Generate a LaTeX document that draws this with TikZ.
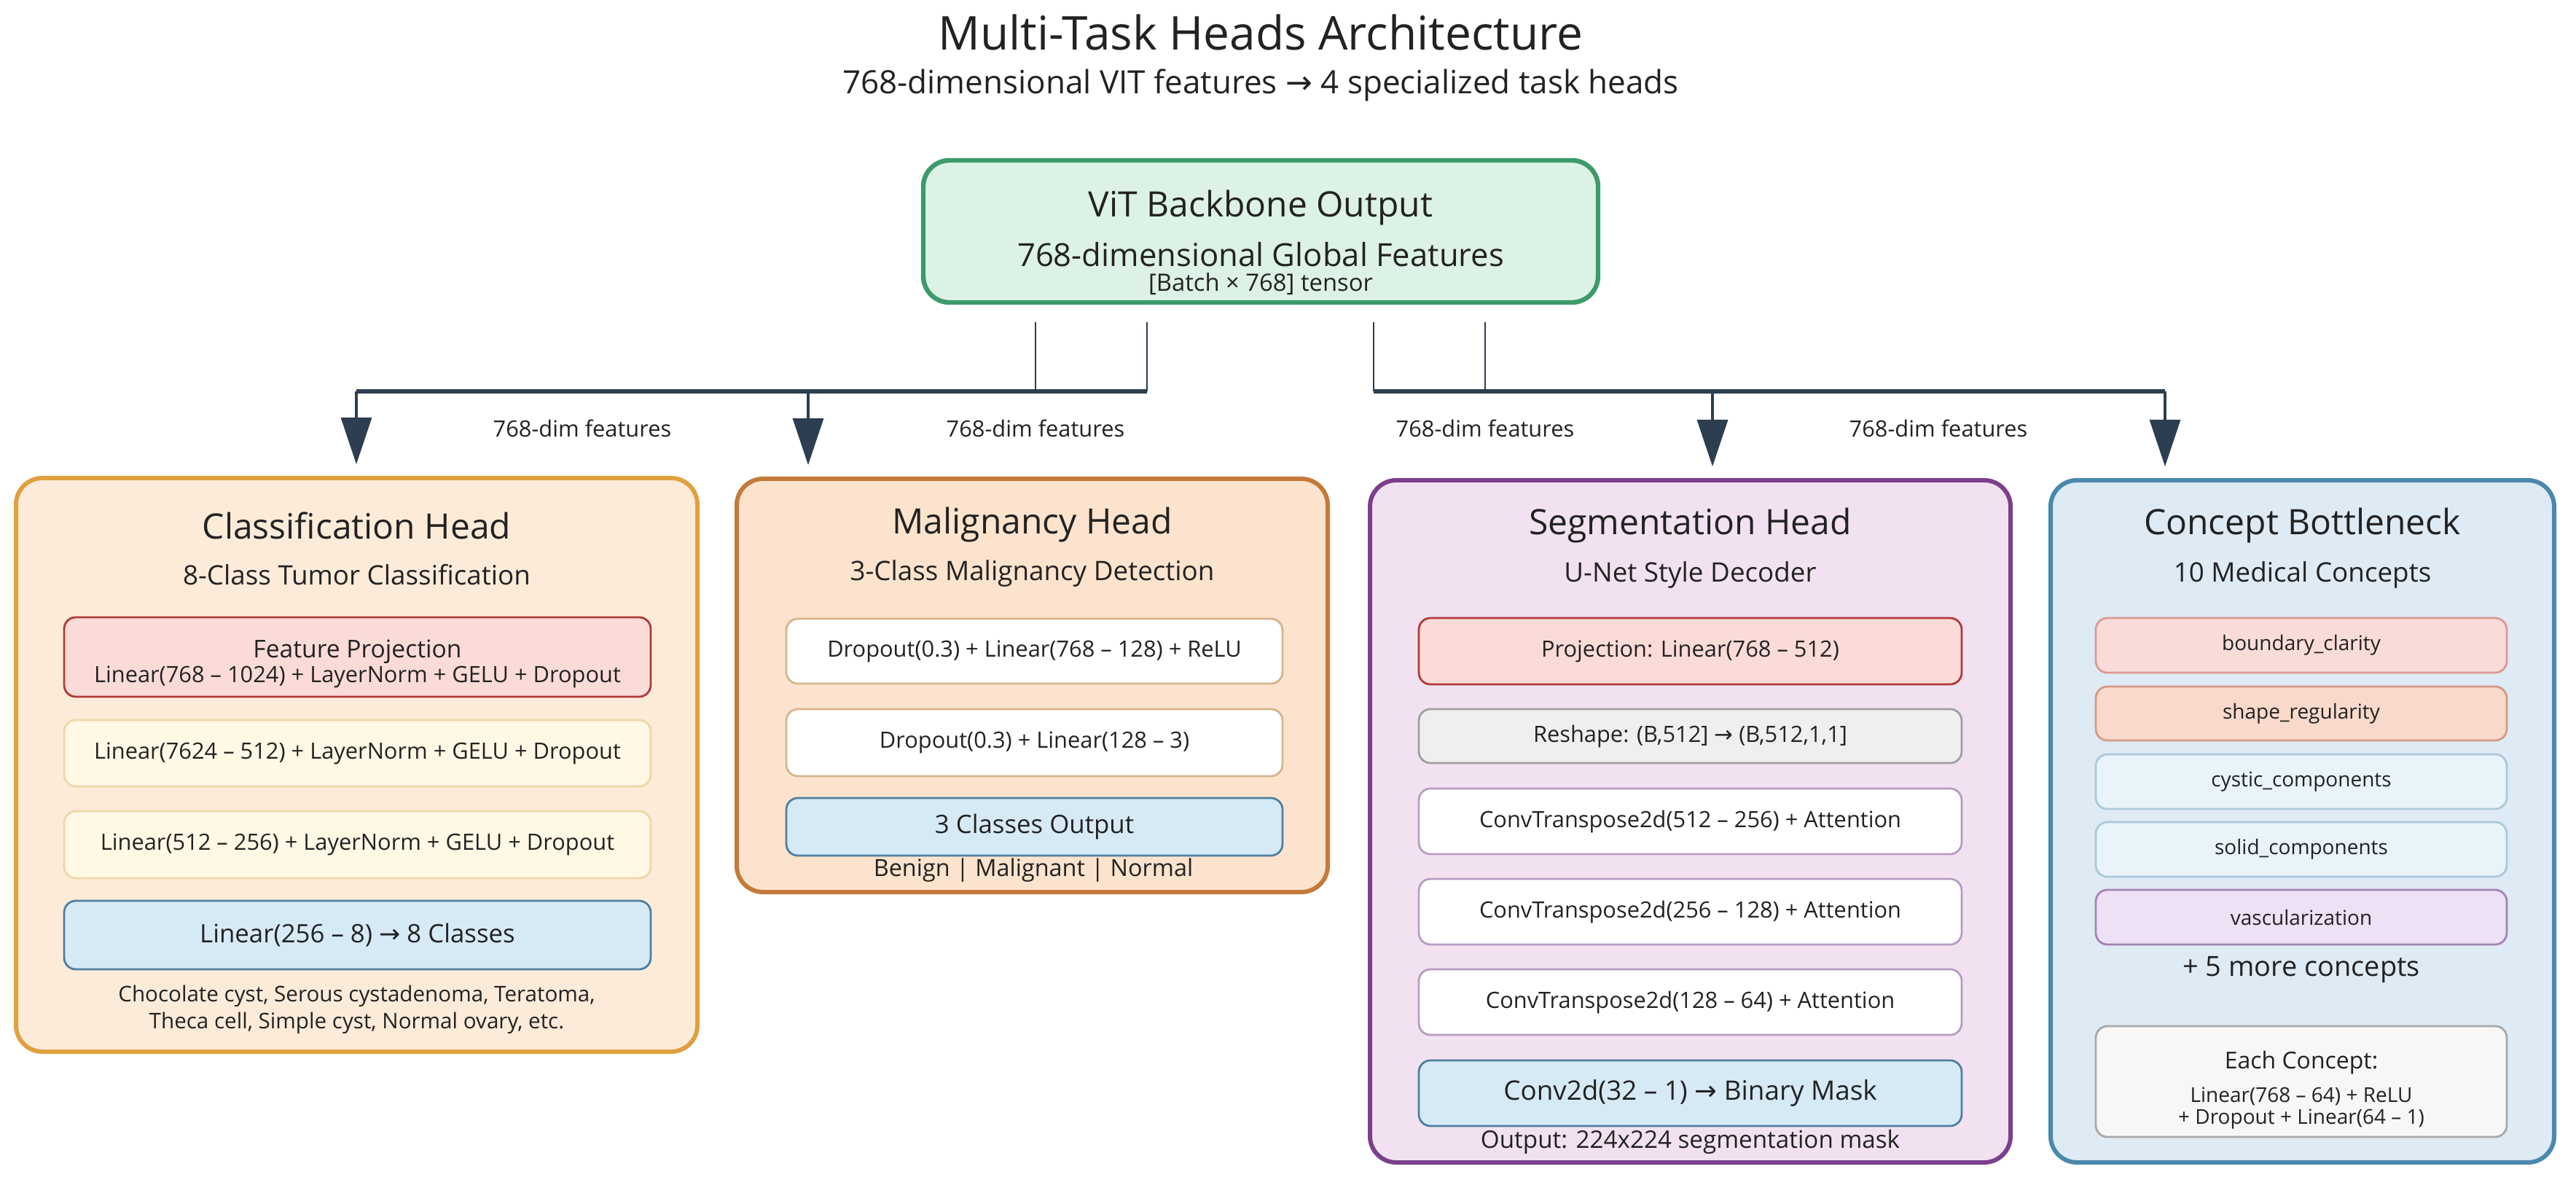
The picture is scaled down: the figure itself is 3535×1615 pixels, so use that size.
\documentclass[tikz,border=0pt]{standalone}
\usepackage{fontspec}
\setmainfont{Open Sans}
\newfontfamily\dvsans{DejaVu Sans}
\usetikzlibrary{arrows.meta}
\newcommand{\myarr}{{\dvsans →}}
\newcommand{\fs}[1]{\fontsize{#1}{#1}\selectfont}
\definecolor{ink}{HTML}{222222}
\definecolor{arrowc}{HTML}{2C3E50}
\definecolor{vitb}{HTML}{3D9A6B}\definecolor{vitf}{HTML}{DDF2E6}
\definecolor{clsb}{HTML}{E0A040}\definecolor{clsf}{HTML}{FDEBD9}
\definecolor{malb}{HTML}{C47A3A}\definecolor{malf}{HTML}{FBE3CD}
\definecolor{segb}{HTML}{7B3F8C}\definecolor{segf}{HTML}{F2E2F1}
\definecolor{conb}{HTML}{4A88AE}\definecolor{conf}{HTML}{DEEAF4}
\definecolor{redb}{HTML}{B03A3A}\definecolor{redf}{HTML}{FADBD8}
\definecolor{yelb}{HTML}{EED6A6}\definecolor{yelf}{HTML}{FEF8E4}
\definecolor{blub}{HTML}{4E7FA0}\definecolor{bluf}{HTML}{D6EAF6}
\definecolor{tanb}{HTML}{D6B48C}
\definecolor{gryb}{HTML}{A0A0A0}\definecolor{gryf}{HTML}{EFEFEF}
\definecolor{purb}{HTML}{B79CC2}
\definecolor{pinkb}{HTML}{D89A94}\definecolor{pinkf}{HTML}{F9DCD8}
\definecolor{peachb}{HTML}{D49A84}\definecolor{peachf}{HTML}{F9D9CB}
\definecolor{skyb}{HTML}{A9C9DA}\definecolor{skyf}{HTML}{E9F4FA}
\definecolor{lavb}{HTML}{A483B4}\definecolor{lavf}{HTML}{EEE0F5}
\definecolor{ltgb}{HTML}{A8A8A8}\definecolor{ltgf}{HTML}{F7F7F7}
\begin{document}
\begin{tikzpicture}[x=0.25pt,y=-0.25pt,
  wh/.style 2 args={minimum width=#1*0.25pt, minimum height=#2*0.25pt},
  outer/.style={draw, rounded corners=9pt, line width=1.5pt, inner sep=0pt},
  ibox/.style={draw, rounded corners=4pt, line width=0.7pt, inner sep=0pt, align=center, text=ink, font=\fs{7.7pt}},
  txt/.style={inner sep=0pt, text=ink, align=center},
  headt/.style={txt, font=\fs{12pt}},
  heads/.style={txt, font=\fs{9.2pt}},
  lbl/.style={txt, font=\fs{7.7pt}},
  thinl/.style={draw=arrowc, line width=0.55pt},
  bar/.style={draw=arrowc, line width=1.3pt},
  arr/.style={draw=arrowc, line width=0.8pt, -{Triangle[width=10.5pt,length=16pt]}, shorten >=4pt}
]
\useasboundingbox[fill=white] (0,0) rectangle (3535,1615);

% titles
\node[txt, font=\fs{16pt}] (title) at (1730,45) {Multi-Task Heads Architecture};
\node[txt, font=\fs{11pt}] (subtitle) at (1730,117) {768-dimensional VIT features \myarr\ 4 specialized task heads};

% backbone
\node[outer, draw=vitb, fill=vitf, line width=1.6pt, wh={926}{195}] (vit) at (1730,317.5) {};
\node[txt, font=\fs{12pt}] (vit1) at (1730,285) {ViT Backbone Output};
\node[txt, font=\fs{10.9pt}] (vit2) at (1730,349) {768-dimensional Global Features};
\node[txt, font=\fs{8.2pt}] (vit3) at (1730,390) {[Batch × 768] tensor};

% head boxes
\node[outer, draw=clsb, fill=clsf, wh={935}{787}] (cls) at (489.5,1049.5) {};
\node[outer, draw=malb, fill=malf, wh={811}{567}] (mal) at (1416.5,940.5) {};
\node[outer, draw=segb, fill=segf, wh={879}{936}] (seg) at (2319.5,1127) {};
\node[outer, draw=conb, fill=conf, wh={691}{936}] (con) at (3159.5,1127) {};

% connectors
\coordinate (tl1) at (1421,442);
\coordinate (tl2) at (1574,442);
\coordinate (tr1) at (1885,442);
\coordinate (tr2) at (2038,442);
\coordinate (jl0) at (489,537);
\coordinate (jl1) at (1109,537);
\coordinate (jl2) at (1421,537);
\coordinate (jl3) at (1574,537);
\coordinate (jr0) at (1885,537);
\coordinate (jr1) at (2038,537);
\coordinate (jr2) at (2350,537);
\coordinate (jr3) at (2971,537);
\draw[thinl] (tl1) -- (jl2);
\draw[thinl] (tl2) -- (jl3);
\draw[thinl] (tr1) -- (jr0);
\draw[thinl] (tr2) -- (jr1);
\draw[bar] (jl0) -- (jl3);
\draw[bar] (jr0) -- (jr3);
\draw[arr] (jl0) -- (cls.north -| jl0);
\draw[arr] (jl1) -- (mal.north -| jl1);
\draw[arr] (jr2) -- (seg.north -| jr2);
\draw[arr] (jr3) -- (con.north -| jr3);
\node[lbl] (f1) at (799,588) {768-dim features};
\node[lbl] (f2) at (1421,588) {768-dim features};
\node[lbl] (f3) at (2038,588) {768-dim features};
\node[lbl] (f4) at (2660,588) {768-dim features};

% classification head
\node[headt] (clst) at (489.5,721) {Classification Head};
\node[heads] (clss) at (489.5,789) {8-Class Tumor Classification};
\node[ibox, draw=redb, fill=redf, wh={805}{109}] (c1) at (490.5,901.5) {};
\node[txt, font=\fs{8.4pt}] (c1a) at (490.5,894) {Feature Projection};
\node[txt, font=\fs{7.7pt}] (c1b) at (490.5,929) {Linear(768 – 1024) + LayerNorm + GELU + Dropout};
\node[ibox, draw=yelb, fill=yelf, wh={805}{91}] (c2) at (490.5,1033.5) {Linear(7624 – 512) + LayerNorm + GELU + Dropout};
\node[ibox, draw=yelb, fill=yelf, wh={805}{92}] (c3) at (490.5,1159) {Linear(512 – 256) + LayerNorm + GELU + Dropout};
\node[ibox, draw=blub, fill=bluf, wh={805}{94}, font=\fs{8.7pt}] (c4) at (490.5,1283) {Linear(256 – 8) \myarr\ 8 Classes};
\node[txt, font=\fs{7.4pt}] (cf1) at (489.5,1367) {Chocolate cyst, Serous cystadenoma, Teratoma,};
\node[txt, font=\fs{7.4pt}] (cf2) at (489.5,1404) {Theca cell, Simple cyst, Normal ovary, etc.};

% malignancy head
\node[headt] (malt) at (1416.5,720) {Malignancy Head};
\node[heads] (mals) at (1416.5,787) {3-Class Malignancy Detection};
\node[ibox, draw=tanb, fill=white, wh={681}{89}] (m1) at (1419.5,893.5) {Dropout(0.3) + Linear(768 – 128) + ReLU};
\node[ibox, draw=tanb, fill=white, wh={681}{92}] (m2) at (1419.5,1019) {Dropout(0.3) + Linear(128 – 3)};
\node[ibox, draw=blub, fill=bluf, wh={681}{79}, font=\fs{8.7pt}] (m3) at (1419.5,1134.5) {3 Classes Output};
\node[txt, font=\fs{8.1pt}] (mf) at (1418,1194) {Benign | Malignant | Normal};

% segmentation head
\node[headt] (segt) at (2319.5,721) {Segmentation Head};
\node[heads] (segs) at (2319.5,789) {U-Net Style Decoder};
\node[ibox, draw=redb, fill=redf, wh={745}{91}] (s1) at (2319.5,893.5) {Projection: Linear(768 – 512)};
\node[ibox, draw=gryb, fill=gryf, wh={745}{74}] (s2) at (2319.5,1010) {Reshape: (B,512] \myarr\ (B,512,1,1]};
\node[ibox, draw=purb, fill=white, wh={745}{90}] (s3) at (2319.5,1127) {ConvTranspose2d(512 – 256) + Attention};
\node[ibox, draw=purb, fill=white, wh={745}{90}] (s4) at (2319.5,1251) {ConvTranspose2d(256 – 128) + Attention};
\node[ibox, draw=purb, fill=white, wh={745}{90}] (s5) at (2319.5,1375) {ConvTranspose2d(128 – 64) + Attention};
\node[ibox, draw=blub, fill=bluf, wh={745}{90}, font=\fs{9.2pt}] (s6) at (2319.5,1500) {Conv2d(32 – 1) \myarr\ Binary Mask};
\node[txt, font=\fs{8.3pt}] (sf) at (2319.5,1567) {Output: 224x224 segmentation mask};

% concept bottleneck
\node[headt] (cont) at (3159.5,721) {Concept Bottleneck};
\node[heads] (cons) at (3159.5,789) {10 Medical Concepts};
\node[ibox, draw=pinkb, fill=pinkf, wh={564}{75}, font=\fs{7pt}] (k1) at (3158,885.5) {boundary\_clarity};
\node[ibox, draw=peachb, fill=peachf, wh={564}{74}, font=\fs{7pt}] (k2) at (3158,979) {shape\_regularity};
\node[ibox, draw=skyb, fill=skyf, wh={564}{75}, font=\fs{7pt}] (k3) at (3158,1072.5) {cystic\_components};
\node[ibox, draw=skyb, fill=skyf, wh={564}{75}, font=\fs{7pt}] (k4) at (3158,1165.5) {solid\_components};
\node[ibox, draw=lavb, fill=lavf, wh={564}{75}, font=\fs{7pt}] (k5) at (3158,1258.5) {vascularization};
\node[txt, font=\fs{9.5pt}] (kmore) at (3158,1330) {+ 5 more concepts};
\node[ibox, draw=ltgb, fill=ltgf, wh={564}{152}] (k6) at (3158,1484) {};
\node[txt, font=\fs{8pt}] (k6a) at (3158,1458) {Each Concept:};
\node[txt, font=\fs{7pt}] (k6b) at (3158,1504) {Linear(768 – 64) + ReLU};
\node[txt, font=\fs{7pt}] (k6c) at (3158,1536) {+ Dropout + Linear(64 – 1)};
\end{tikzpicture}
\end{document}
